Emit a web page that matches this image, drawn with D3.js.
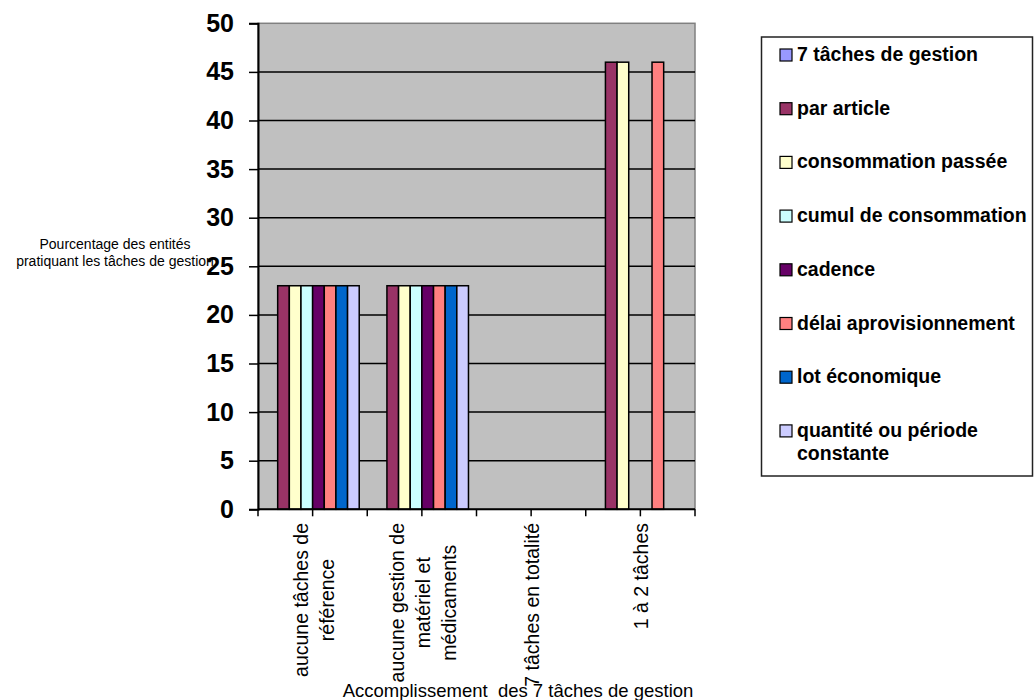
<!DOCTYPE html>
<html>
<head>
<meta charset="utf-8">
<script src="https://cdn.jsdelivr.net/npm/d3@7"></script>
<style>
  html, body { margin: 0; padding: 0; background: #ffffff; }
  svg { display: block; font-family: "Liberation Sans", Arial, sans-serif; }
  svg text { font-family: "Liberation Sans", Arial, sans-serif; }
</style>
</head>
<body>
<svg id="chart" width="1034" height="700"></svg>
<script>
// Categories (x axis), each given as its wrapped label lines
const categories = ["ref", "mat", "tot", "part"];
const categoryLines = [
  ["aucune tâches de", "référence"],
  ["aucune gestion de", "matériel et", "médicaments"],
  ["7 tâches en totalité"],
  ["1 à 2 tâches"]
];

// Series names and colours
const seriesNames = [
  "7 tâches de gestion",
  "par article",
  "consommation passée",
  "cumul de consommation",
  "cadence",
  "délai aprovisionnement",
  "lot économique",
  "quantité ou période constante"
];
const seriesColors = ["#9999FF", "#993366", "#FFFFCC", "#CCFFFF", "#660066", "#FF8080", "#0066CC", "#CCCCFF"];

// Values per series, one per category (percent)
const v7taches       = [0, 0, 0, 0];
const vParArticle    = [23, 23, 0, 46];
const vConsoPassee   = [23, 23, 0, 46];
const vCumulConso    = [23, 23, 0, 0];
const vCadence       = [23, 23, 0, 0];
const vDelai         = [23, 23, 0, 46];
const vLotEco        = [23, 23, 0, 0];
const vQuantite      = [23, 23, 0, 0];
const seriesValues = [v7taches, vParArticle, vConsoPassee, vCumulConso, vCadence, vDelai, vLotEco, vQuantite];

// Y ticks
const yTicks = [0, 5, 10, 15, 20, 25, 30, 35, 40, 45, 50];

const yTitleLines = ["Pourcentage des entités", "pratiquant les tâches de gestion"];
const xTitle = "Accomplissement  des 7 tâches de gestion";

const FONT = "'Liberation Sans', Arial, sans-serif";
const svg = d3.select("#chart");
const plot = { left: 258, right: 695, top: 23.3, bottom: 509.3 };

const x0 = d3.scaleBand()
  .domain(categories)
  .range([plot.left, plot.right])
  .paddingInner(0.147)
  .paddingOuter(0.0735);

const x1 = d3.scaleBand()
  .domain(seriesNames)
  .range([0, x0.bandwidth()]);

const y = d3.scaleLinear().domain([0, 50]).range([plot.bottom, plot.top]);

// Plot background
svg.append("rect")
  .attr("x", plot.left).attr("y", plot.top)
  .attr("width", plot.right - plot.left).attr("height", plot.bottom - plot.top)
  .attr("fill", "#C0C0C0")
  .attr("stroke", "#808080").attr("stroke-width", 1.5);

// Horizontal gridlines
svg.append("g")
  .selectAll("line")
  .data(yTicks.filter(t => t > 0 && t < 50))
  .join("line")
  .attr("x1", plot.left).attr("x2", plot.right)
  .attr("y1", d => y(d)).attr("y2", d => y(d))
  .attr("stroke", "#000").attr("stroke-width", 1.5);

// Bars
const rows = [];
seriesNames.forEach((s, si) => {
  categories.forEach((c, ci) => {
    rows.push({ s, c, v: seriesValues[si][ci], color: seriesColors[si] });
  });
});
svg.append("g")
  .selectAll("rect")
  .data(rows.filter(d => d.v > 0))
  .join("rect")
  .attr("x", d => x0(d.c) + x1(d.s))
  .attr("y", d => y(d.v))
  .attr("width", x1.bandwidth())
  .attr("height", d => y(0) - y(d.v))
  .attr("fill", d => d.color)
  .attr("stroke", "#000").attr("stroke-width", 1.5);

// Y axis
const yAxis = d3.axisLeft(y).tickValues(yTicks).tickSize(9).tickPadding(15);
const gy = svg.append("g").attr("transform", `translate(${plot.left},0)`).call(yAxis);
gy.attr("font-family", FONT);
gy.select(".domain").attr("stroke", "#000").attr("stroke-width", 2);
gy.selectAll(".tick line").attr("stroke", "#000").attr("stroke-width", 1.5);
gy.selectAll(".tick text")
  .attr("font-family", FONT)
  .attr("font-size", 25).attr("font-weight", "bold").attr("fill", "#000");

// X axis line and ticks (category edges and centres)
const step = x0.step();
const edgeOffset = (step - x0.bandwidth()) / 2;
const xTickPos = [];
categories.forEach((c, i) => {
  const start = x0(c) - edgeOffset;
  xTickPos.push(start, start + step / 2);
  if (i === categories.length - 1) xTickPos.push(start + step);
});
svg.append("line")
  .attr("x1", plot.left).attr("x2", plot.right)
  .attr("y1", plot.bottom).attr("y2", plot.bottom)
  .attr("stroke", "#000").attr("stroke-width", 2);
svg.append("g")
  .selectAll("line")
  .data(xTickPos)
  .join("line")
  .attr("x1", d => d).attr("x2", d => d)
  .attr("y1", plot.bottom).attr("y2", plot.bottom + 7)
  .attr("stroke", "#000").attr("stroke-width", 1.5);

// Rotated category labels
const labelFont = 19.5, lineGap = 26, labelTop = 523;
categories.forEach((c, ci) => {
  const lines = categoryLines[ci];
  const cx = x0(c) + x0.bandwidth() / 2 + 1;
  const g = svg.append("g").attr("transform", `translate(${cx},${labelTop}) rotate(-90)`);
  const texts = g.selectAll("text")
    .data(lines)
    .join("text")
    .attr("font-family", FONT)
    .attr("font-size", labelFont)
    .attr("fill", "#000")
    .attr("dominant-baseline", "central")
    .attr("y", (d, i) => (i - (lines.length - 1) / 2) * lineGap)
    .text(d => d);
  let maxLen = 0;
  texts.each(function () { maxLen = Math.max(maxLen, this.getComputedTextLength()); });
  texts.attr("text-anchor", "middle").attr("x", -maxLen / 2);
});

// Y axis title
svg.append("g")
  .selectAll("text")
  .data(yTitleLines)
  .join("text")
  .attr("x", 115)
  .attr("y", (d, i) => 249 + i * 17)
  .attr("text-anchor", "middle")
  .attr("font-family", FONT)
  .attr("font-size", 14)
  .attr("fill", "#000")
  .text(d => d);

// X axis title
svg.append("text")
  .attr("x", 518).attr("y", 697)
  .attr("text-anchor", "middle")
  .attr("font-family", FONT)
  .attr("font-size", 18.5)
  .attr("fill", "#000")
  .attr("xml:space", "preserve")
  .style("white-space", "pre")
  .text(xTitle);

// Legend
const legend = svg.append("g");
legend.append("rect")
  .attr("x", 761.5).attr("y", 37)
  .attr("width", 271).attr("height", 439)
  .attr("fill", "#fff")
  .attr("stroke", "#222").attr("stroke-width", 1.5);

const legendLines = seriesNames.map(n => n === "quantité ou période constante" ? ["quantité ou période", "constante"] : [n]);
const items = legend.selectAll("g.item")
  .data(seriesNames)
  .join("g")
  .attr("class", "item")
  .attr("transform", (d, i) => `translate(0,${61 + i * 53.7})`);
items.append("rect")
  .attr("x", 780).attr("y", -12)
  .attr("width", 12).attr("height", 12)
  .attr("fill", (d, i) => seriesColors[i])
  .attr("stroke", "#000").attr("stroke-width", 1.2);
items.each(function (d, i) {
  d3.select(this).selectAll("text")
    .data(legendLines[i])
    .join("text")
    .attr("x", 797)
    .attr("y", (t, j) => j * 23)
    .attr("font-family", FONT)
    .attr("font-size", 19.5)
    .attr("font-weight", "bold")
    .attr("fill", "#000")
    .text(t => t);
});
</script>
</body>
</html>
